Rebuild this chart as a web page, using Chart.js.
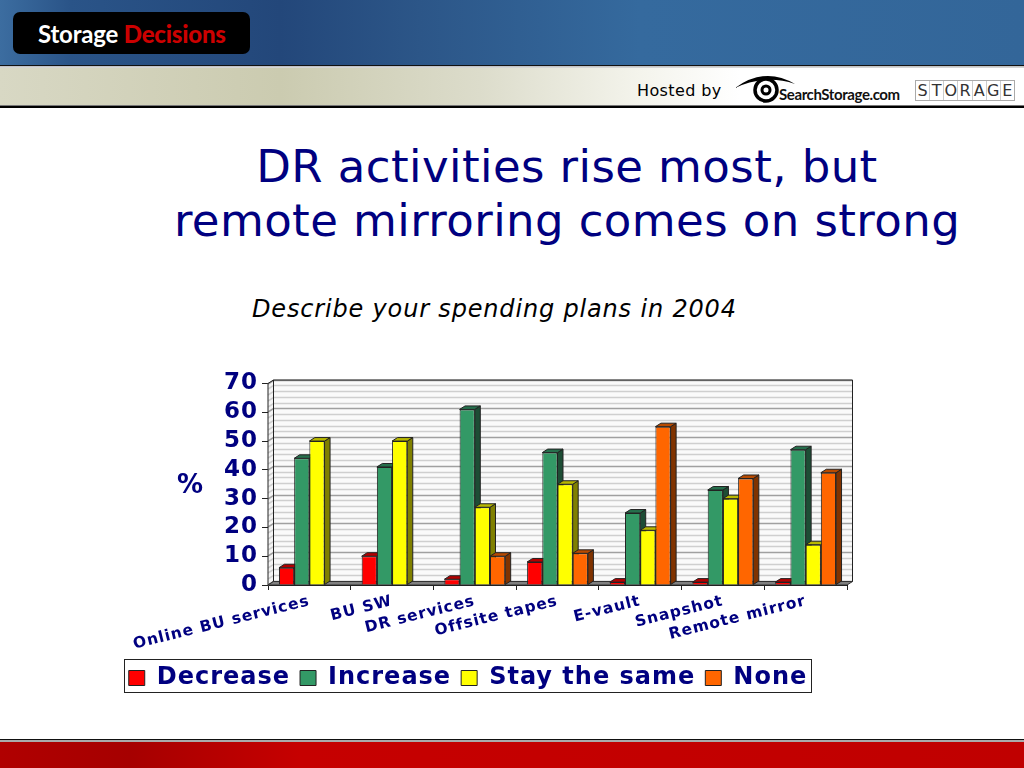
<!DOCTYPE html>
<html><head><meta charset="utf-8">
<script src="https://cdn.jsdelivr.net/npm/chart.js@4"></script>
<style>
html,body{margin:0;padding:0;background:#fff;width:1024px;height:768px;overflow:hidden;font-family:"DejaVu Sans",sans-serif}
.abs{position:absolute;white-space:nowrap}
#hdr{left:0;top:0;width:1024px;height:65px;background:linear-gradient(90deg,#3c6da0 0,#2a5488 70px,#23477a 280px,#2c5688 420px,#356a9e 640px,#336699 1024px)}
#l1{left:0;top:65px;width:1024px;height:3px;background:linear-gradient(#111 0,#111 33%,#bbb 33%,#ddd 100%)}
#band{left:0;top:68px;width:1024px;height:37px;background:linear-gradient(90deg,#d8d8c4 0,#cbcbb0 280px,#dcdccb 480px,#f4f4ec 640px,#fff 740px)}
#l2{left:0;top:105px;width:1024px;height:3px;background:linear-gradient(#777 0,#777 33%,#fff 33%,#fff 50%,#000 50%)}
#logo{left:13px;top:12px;width:237px;height:42px;background:#000;border-radius:7px}
#logotxt{left:38px;top:19px;font:bold 24px Lato,sans-serif;color:#fff;letter-spacing:-.2px}
#logotxt b{color:#cc0000}
#hosted{left:637px;top:81px;font-size:16px;color:#000;letter-spacing:.4px}
#ss{left:779px;top:85px;font:bold 15px Lato,sans-serif;color:#111;letter-spacing:-.4px}
#st{left:915px;top:80px;width:100px;height:21px;border:1px solid #aaa;box-sizing:border-box;display:flex;background:#fff}
#st span{flex:1 1 0;min-width:0;overflow:hidden;text-align:center;font:16px/19px "DejaVu Sans",sans-serif;color:#333;border-right:1px solid #ccc}
#eye{left:735px;top:72px}
.t{color:#000080;font-size:45px;left:0;width:1134px;text-align:center;letter-spacing:.42px}
#sub{left:252px;top:295px;font-style:italic;font-size:24px;color:#000;letter-spacing:.83px}
#pct{left:177px;top:469px;font:bold 26px "DejaVu Sans";color:#000080}
#f1{left:0;top:739px;width:1024px;height:3px;background:linear-gradient(#111 0,#111 50%,#aaa 50%)}
#f2{left:0;top:742px;width:1024px;height:26px;background:linear-gradient(90deg,#b00000 0,#a60000 130px,#c60000 300px,#c00000 1024px)}
#c{position:absolute;left:0;top:0}
</style></head><body>
<div class="abs" id="hdr"></div><div class="abs" id="l1"></div><div class="abs" id="band"></div><div class="abs" id="l2"></div>
<div class="abs" id="logo"></div><div class="abs" id="logotxt">Storage <b>Decisions</b></div>
<div class="abs" id="hosted">Hosted by</div>
<svg class="abs" id="eye" width="62" height="34"><path d="M0 16 Q30 -6 60 12 Q30 2 0 16Z" fill="#000"/><circle cx="31" cy="18" r="11" fill="none" stroke="#000" stroke-width="3.5"/><circle cx="31" cy="18" r="4" fill="none" stroke="#000" stroke-width="3"/></svg>
<div class="abs" id="ss">SearchStorage.com</div>
<div class="abs" id="st"><span>S</span><span>T</span><span>O</span><span>R</span><span>A</span><span>G</span><span style="border:0">E</span></div>
<div class="abs t" style="top:140px">DR activities rise most, but</div>
<div class="abs t" style="top:194px">remote mirroring comes on strong</div>
<div class="abs" id="sub">Describe your spending plans in 2004</div>
<canvas id="c" width="936" height="708"></canvas>
<div class="abs" id="pct">%</div>
<div class="abs" id="f1"></div><div class="abs" id="f2"></div>
<script>
const categories = ["Online BU services","BU SW","DR services","Offsite tapes","E-vault","Snapshot","Remote mirror"];
const decrease = [6,10,2,8,1,1,1];
const increase = [44,41,61,46,25,33,47];
const stayTheSame = [50,50,27,35,19,30,14];
const none = [null,null,10,11,55,37,39];
const seriesNames = ["Decrease","Increase","Stay the same","None"];
const frontColors = ["#ff0000","#339966","#ffff00","#ff6600"];
const topColors = ["#b30000","#266f4c","#b8b800","#b84a00"];
const sideColors = ["#800000","#1d4d35","#808000","#803300"];
const DX = 5.5, DY = 3.5, NAVY = "#000080";

function poly(ctx, pts, fill, stroke){
  ctx.beginPath(); pts.forEach((p,i)=> i?ctx.lineTo(p[0],p[1]):ctx.moveTo(p[0],p[1])); ctx.closePath();
  if(fill){ctx.fillStyle=fill;ctx.fill();}
  if(stroke){ctx.strokeStyle=stroke;ctx.lineWidth=1;ctx.stroke();}
}
const wall3d = {
  id:"wall3d",
  beforeUpdate(chart){ chart.ctx.letterSpacing="1px"; },
  beforeDraw(chart){ chart.ctx.letterSpacing="1px"; },
  afterLayout(chart){ chart.legend.left+=44.5; chart.legend.right+=44.5; chart.legend.adjustHitBoxes(); },
  beforeDatasetsDraw(chart){
    const {ctx,chartArea:a,scales:{y}} = chart;
    ctx.save();
    poly(ctx,[[a.left+DX,a.top-DY],[a.right+DX,a.top-DY],[a.right+DX,a.bottom-DY],[a.left+DX,a.bottom-DY]],"#fafafa");
    poly(ctx,[[a.left,a.top],[a.left+DX,a.top-DY],[a.left+DX,a.bottom-DY],[a.left,a.bottom]],"#f4f4f4");
    for(let v=0;v<=70;v+=2){
      const py=Math.round(y.getPixelForValue(v)), major=v%10===0;
      ctx.strokeStyle=major?"#a0a0a0":"#cfcfcf"; ctx.lineWidth=1.5;
      ctx.beginPath();ctx.moveTo(a.left,py);ctx.lineTo(a.left+DX,py-DY);ctx.lineTo(a.right+DX,py-DY);ctx.stroke();
    }
    poly(ctx,[[a.left+DX,a.top-DY],[a.right+DX,a.top-DY],[a.right+DX,a.bottom-DY],[a.left+DX,a.bottom-DY]],null,"#222");
    poly(ctx,[[a.left,a.top],[a.left+DX,a.top-DY],[a.left+DX,a.bottom-DY],[a.left,a.bottom]],null,"#222");
    poly(ctx,[[a.left,a.bottom],[a.right,a.bottom],[a.right+DX,a.bottom-DY],[a.left+DX,a.bottom-DY]],"#808080","#333");
    const n=categories.length;
    for(let c=0;c<n;c++){
      chart.data.datasets.forEach((ds,di)=>{
        const val=ds.data[c]; if(val==null) return;
        const b=chart.getDatasetMeta(di).data[c];
        const l=b.x-b.width/2, r=b.x+b.width/2, t=b.y, bo=b.base;
        poly(ctx,[[r,t],[r+DX,t-DY],[r+DX,bo-DY],[r,bo]],sideColors[di],"#222");
        poly(ctx,[[l,t],[r,t],[r+DX,t-DY],[l+DX,t-DY]],topColors[di],"#222");
      });
    }
    ctx.restore();
  },
  afterDraw(chart){
    const ctx=chart.ctx;
    ctx.save();ctx.strokeStyle="#222";ctx.lineWidth=1;
    ctx.strokeRect(124.5,659.5,687,33);
    ctx.restore();
  }
};
new Chart(document.getElementById("c"),{
  type:"bar",
  data:{labels:categories,datasets:[decrease,increase,stayTheSame,none].map((d,i)=>({
    label:seriesNames[i],data:d,backgroundColor:frontColors[i],borderColor:"#222",borderWidth:1,
    categoryPercentage:0.735,barPercentage:1}))},
  options:{
    responsive:false,animation:false,
    layout:{padding:{left:0,right:89,top:383.5,bottom:8}},
    plugins:{
      tooltip:{enabled:false},
      legend:{position:"bottom",labels:{color:NAVY,font:{family:"DejaVu Sans",weight:"bold",size:24},boxWidth:16,boxHeight:15,padding:10}}
    },
    scales:{
      x:{offset:true,
        afterFit(s){s.height=71;},
        grid:{offset:true,drawOnChartArea:false,tickLength:5,color:"#222"},
        border:{color:"#111"},
        ticks:{color:NAVY,font:{family:"DejaVu Sans",weight:"bold",size:15.5},minRotation:14,maxRotation:14,autoSkip:false,padding:2}},
      y:{min:0,max:70,
        afterFit(s){s.width=268;},
        grid:{drawOnChartArea:false,tickLength:6,color:"#222"},
        border:{color:"#111"},
        ticks:{stepSize:10,autoSkip:false,color:NAVY,font:{family:"DejaVu Sans",weight:"bold",size:23},padding:4}}
    }
  },
  plugins:[wall3d]
});
</script></body></html>
